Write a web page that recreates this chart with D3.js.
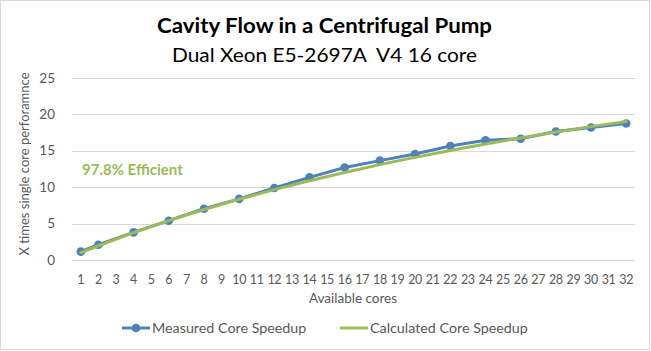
<!DOCTYPE html>
<html>
<head>
<meta charset="utf-8">
<script src="https://cdn.jsdelivr.net/npm/d3@7"></script>
<style>
  html, body { margin: 0; padding: 0; background: #fff; }
  svg { display: block; font-family: Lato, "Liberation Sans", sans-serif; }
</style>
</head>
<body>
<div id="chart"></div>
<script>
const categories = d3.range(1, 33).map(String);
const cores = [1, 2, 4, 6, 8, 10, 12, 14, 16, 18, 20, 22, 24, 26, 28, 30, 32];
const measured = [1.15, 2.1, 3.8, 5.4, 7.05, 8.4, 9.9, 11.35, 12.7, 13.65, 14.55, 15.65, 16.45, 16.65, 17.65, 18.2, 18.75];
const calculated = [1.0, 1.96, 3.75, 5.41, 6.93, 8.35, 9.66, 10.89, 12.03, 13.1, 14.1, 15.05, 15.94, 16.77, 17.57, 18.32, 19.02];
const yTicks = [0, 5, 10, 15, 20, 25];

const width = 651, height = 351;
const blue = "#4f81bd", green = "#9bbb59";

const svg = d3.select("#chart").append("svg").attr("width", width).attr("height", height);

svg.append("rect")
  .attr("x", 0.5).attr("y", 0.5)
  .attr("width", width - 2).attr("height", height - 2)
  .attr("fill", "#fff").attr("stroke", "#d9d9d9");

const x = d3.scaleBand().domain(categories).range([72, 635]);
const y = d3.scaleLinear().domain([0, 25]).range([260, 78]);
const cx = (c) => x(String(c)) + x.bandwidth() / 2;

// title (Calibri is wider per cap height, so stretch to the reference width)
svg.append("text").attr("x", 157).attr("y", 33)
  .attr("font-size", 20).attr("font-weight", "bold").attr("fill", "#000")
  .attr("textLength", 335).attr("lengthAdjust", "spacingAndGlyphs")
  .text("Cavity Flow in a Centrifugal Pump");
svg.append("text").attr("x", 172).attr("y", 62)
  .attr("font-size", 19.5).attr("fill", "#000")
  .attr("textLength", 305).attr("lengthAdjust", "spacingAndGlyphs")
  .text("Dual Xeon E5-2697A\u00a0 V4 16 core");

// gridlines
svg.append("g").selectAll("line").data(yTicks).join("line")
  .attr("x1", 72).attr("x2", 635)
  .attr("y1", (d) => Math.round(y(d)) + 0.5).attr("y2", (d) => Math.round(y(d)) + 0.5)
  .attr("stroke", "#d9d9d9");

// y axis labels
svg.append("g").selectAll("text").data(yTicks).join("text")
  .attr("x", 55).attr("y", (d) => y(d) + 4.5).attr("text-anchor", "end")
  .attr("font-size", 13.5).attr("fill", "#595959")
  .text((d) => d);

// x axis labels
svg.append("g").selectAll("text").data(categories).join("text")
  .attr("x", (d) => cx(d)).attr("y", 284).attr("text-anchor", "middle")
  .attr("font-size", 12.5).attr("fill", "#595959")
  .attr("letter-spacing", -0.3)
  .text((d) => d);

// axis titles
svg.append("text").attr("x", 353).attr("y", 303).attr("text-anchor", "middle")
  .attr("font-size", 13.5).attr("fill", "#595959").text("Available cores");
svg.append("text").attr("transform", "translate(29,164) rotate(-90)")
  .attr("text-anchor", "middle").attr("font-size", 13).attr("fill", "#595959")
  .text("X times single core perforamnce");

// series
const line = d3.line().x((d) => cx(d[0])).y((d) => y(d[1]));
const measuredPts = d3.zip(cores, measured);
const calcPts = d3.zip(cores, calculated);

svg.append("path").datum(measuredPts).attr("d", line)
  .attr("fill", "none").attr("stroke", blue).attr("stroke-width", 3)
  .attr("stroke-linejoin", "round").attr("stroke-linecap", "round");
svg.append("g").selectAll("circle").data(measuredPts).join("circle")
  .attr("cx", (d) => cx(d[0])).attr("cy", (d) => y(d[1])).attr("r", 4.3)
  .attr("fill", blue);
svg.append("path").datum(calcPts).attr("d", line)
  .attr("fill", "none").attr("stroke", green).attr("stroke-width", 3)
  .attr("stroke-linejoin", "round").attr("stroke-linecap", "round");

// annotation
svg.append("text").attr("x", 82).attr("y", 175)
  .attr("font-size", 15).attr("font-weight", "bold").attr("fill", green)
  .text("97.8% Efficient");

// legend
const legend = svg.append("g");
legend.append("line").attr("x1", 122).attr("x2", 150).attr("y1", 328).attr("y2", 328)
  .attr("stroke", blue).attr("stroke-width", 3);
legend.append("circle").attr("cx", 136).attr("cy", 328).attr("r", 4.3).attr("fill", blue);
legend.append("text").attr("x", 152).attr("y", 333).attr("font-size", 14.3).attr("fill", "#595959")
  .text("Measured Core Speedup");
legend.append("line").attr("x1", 340).attr("x2", 368).attr("y1", 328).attr("y2", 328)
  .attr("stroke", green).attr("stroke-width", 3);
legend.append("text").attr("x", 370).attr("y", 333).attr("font-size", 14.3).attr("fill", "#595959")
  .text("Calculated Core Speedup");
</script>
</body>
</html>
